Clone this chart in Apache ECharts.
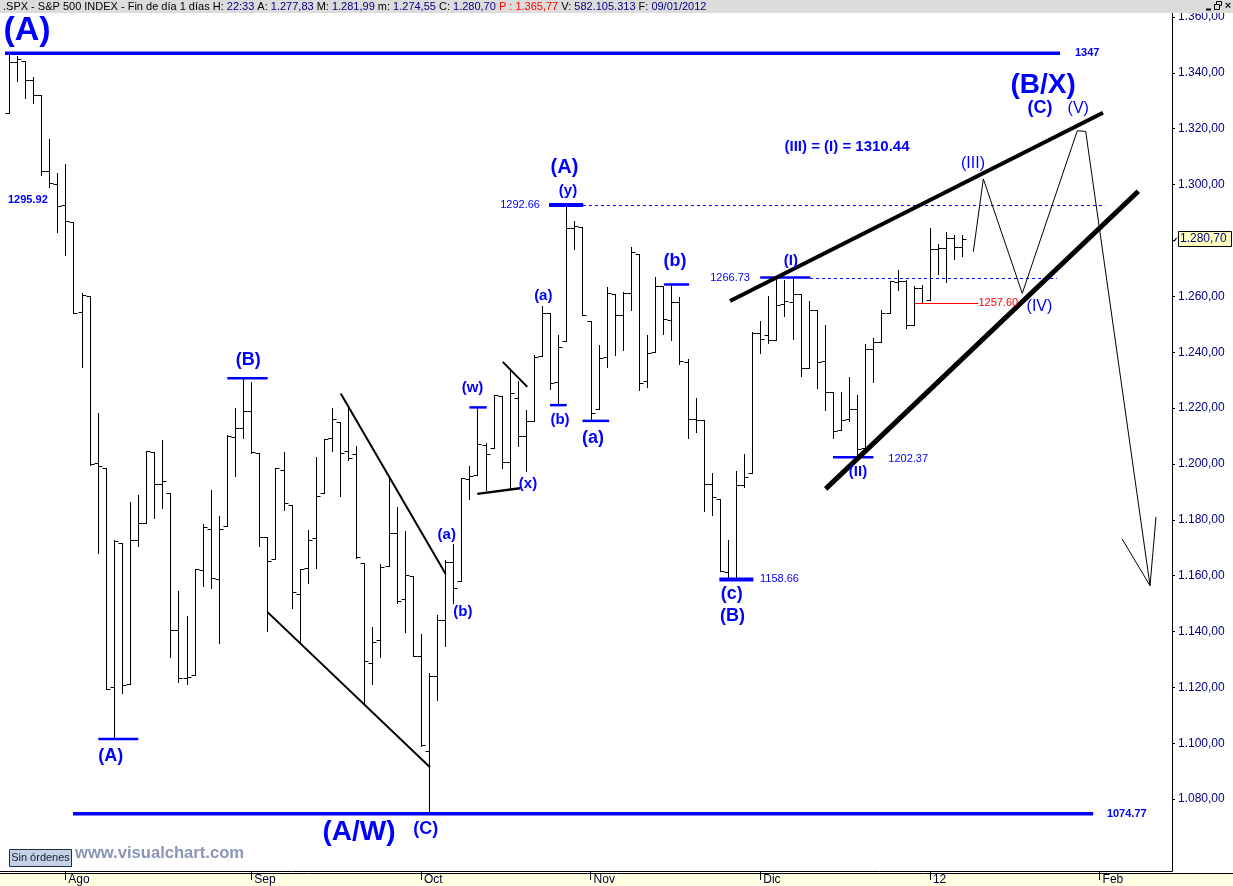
<!DOCTYPE html>
<html><head><meta charset="utf-8">
<script src="https://cdn.jsdelivr.net/npm/echarts@6/dist/echarts.min.js"></script>
<style>html,body{margin:0;padding:0;background:#fff}#c{width:1233px;height:886px}</style>
</head><body><div id="c"></div><script>
const FONT = '"Liberation Sans", Arial, Helvetica, sans-serif';

// ---- daily bars (S&P 500) ----
const dates = ['2011-07-21','2011-07-22','2011-07-25','2011-07-26','2011-07-27','2011-07-28','2011-07-29',
'2011-08-01','2011-08-02','2011-08-03','2011-08-04','2011-08-05','2011-08-08','2011-08-09','2011-08-10','2011-08-11','2011-08-12',
'2011-08-15','2011-08-16','2011-08-17','2011-08-18','2011-08-19','2011-08-22','2011-08-23','2011-08-24','2011-08-25','2011-08-26',
'2011-08-29','2011-08-30','2011-08-31','2011-09-01','2011-09-02','2011-09-06','2011-09-07','2011-09-08','2011-09-09',
'2011-09-12','2011-09-13','2011-09-14','2011-09-15','2011-09-16','2011-09-19','2011-09-20','2011-09-21','2011-09-22','2011-09-23',
'2011-09-26','2011-09-27','2011-09-28','2011-09-29','2011-09-30','2011-10-03','2011-10-04','2011-10-05','2011-10-06','2011-10-07',
'2011-10-10','2011-10-11','2011-10-12','2011-10-13','2011-10-14','2011-10-17','2011-10-18','2011-10-19','2011-10-20','2011-10-21',
'2011-10-24','2011-10-25','2011-10-26','2011-10-27','2011-10-28','2011-10-31','2011-11-01','2011-11-02','2011-11-03','2011-11-04',
'2011-11-07','2011-11-08','2011-11-09','2011-11-10','2011-11-11','2011-11-14','2011-11-15','2011-11-16','2011-11-17','2011-11-18',
'2011-11-21','2011-11-22','2011-11-23','2011-11-25','2011-11-28','2011-11-29','2011-11-30','2011-12-01','2011-12-02',
'2011-12-05','2011-12-06','2011-12-07','2011-12-08','2011-12-09','2011-12-12','2011-12-13','2011-12-14','2011-12-15','2011-12-16',
'2011-12-19','2011-12-20','2011-12-21','2011-12-22','2011-12-23','2011-12-27','2011-12-28','2011-12-29','2011-12-30',
'2012-01-03','2012-01-04','2012-01-05','2012-01-06','2012-01-09'];
const opens = [1325.65,1343.80,1344.32,1337.39,1331.91,1304.84,1300.12,
1292.59,1286.56,1254.25,1260.23,1200.28,1198.48,1120.23,1171.77,1121.30,1172.87,
1178.86,1204.22,1192.89,1189.62,1140.47,1123.55,1124.36,1162.16,1176.69,1158.85,
1177.91,1209.76,1213.00,1219.12,1203.90,1173.97,1165.85,1197.98,1185.37,
1153.50,1162.59,1173.32,1189.44,1209.21,1214.99,1204.50,1203.63,1164.55,1128.82,
1136.91,1163.32,1175.39,1151.74,1159.93,1131.21,1097.42,1124.03,1144.11,1165.03,
1158.15,1194.60,1196.19,1206.96,1205.65,1224.47,1200.75,1223.46,1209.92,1215.39,
1238.72,1254.19,1229.17,1243.97,1284.39,1284.96,1251.00,1219.62,1238.25,1260.82,
1253.21,1261.12,1275.18,1229.59,1240.12,1263.85,1251.70,1257.81,1236.56,1216.19,
1215.62,1192.98,1187.48,1161.41,1158.67,1192.56,1196.72,1246.91,1246.03,
1244.33,1257.19,1258.14,1260.87,1234.48,1255.05,1236.83,1225.73,1212.12,1216.09,
1219.74,1205.72,1241.25,1243.72,1254.00,1265.02,1265.38,1249.75,1262.82,
1258.86,1277.03,1277.30,1280.93,1277.83];
const highs = [1347.00,1346.10,1344.32,1338.51,1331.91,1316.32,1304.16,
1307.38,1286.56,1261.20,1260.23,1218.11,1198.48,1172.88,1171.77,1186.29,1189.04,
1204.49,1204.22,1208.47,1189.62,1154.54,1145.49,1162.35,1178.56,1190.68,1181.23,
1210.28,1220.10,1230.71,1229.29,1203.90,1173.97,1198.62,1204.40,1185.37,
1162.52,1176.41,1202.38,1209.11,1220.06,1214.99,1220.39,1206.30,1164.55,1141.72,
1164.19,1195.86,1184.71,1175.87,1159.93,1138.99,1125.12,1146.07,1165.55,1171.40,
1194.91,1199.24,1220.25,1207.46,1224.61,1224.47,1233.10,1229.64,1219.36,1239.03,
1256.55,1254.19,1246.28,1292.66,1287.08,1284.96,1251.00,1242.48,1263.21,1260.82,
1261.70,1277.55,1275.18,1246.22,1266.98,1263.85,1264.25,1259.61,1237.73,1223.51,
1215.62,1196.81,1187.48,1172.66,1197.35,1203.67,1247.11,1251.09,1260.08,
1266.73,1266.03,1267.06,1260.87,1258.25,1255.05,1249.86,1225.73,1225.60,1231.04,
1224.57,1242.82,1245.09,1255.22,1265.42,1269.37,1265.85,1263.54,1264.12,
1284.62,1278.73,1283.05,1281.84,1281.99];
const lows = [1325.65,1336.95,1331.09,1329.10,1303.49,1299.16,1282.86,
1274.73,1254.03,1234.56,1199.54,1168.09,1119.28,1101.54,1118.01,1121.30,1170.74,
1178.86,1180.53,1184.36,1131.03,1122.05,1121.09,1124.36,1156.30,1155.47,1135.91,
1177.91,1195.77,1209.35,1203.85,1170.56,1140.13,1165.85,1183.34,1148.37,
1136.07,1157.44,1162.73,1189.44,1204.46,1188.36,1201.29,1166.21,1114.22,1121.36,
1131.07,1163.32,1150.40,1139.93,1131.34,1098.92,1074.77,1115.68,1134.95,1150.26,
1158.15,1187.30,1196.19,1190.58,1205.65,1198.55,1191.48,1206.31,1197.34,1215.39,
1238.72,1226.79,1221.06,1243.97,1277.01,1253.16,1215.42,1219.62,1234.81,1238.92,
1240.75,1254.99,1226.64,1227.70,1240.12,1246.68,1244.34,1235.67,1209.43,1211.36,
1183.16,1181.65,1161.79,1158.66,1158.67,1191.80,1196.72,1239.73,1243.35,
1244.33,1253.03,1244.80,1231.47,1234.48,1227.25,1219.43,1209.47,1212.12,1215.20,
1202.37,1205.72,1229.51,1243.72,1254.00,1262.30,1248.64,1249.75,1257.46,
1258.86,1268.10,1265.26,1273.34,1274.55];
const closes = [1343.80,1345.02,1337.43,1331.94,1304.89,1300.67,1292.28,
1286.94,1254.05,1260.34,1200.07,1199.38,1119.46,1172.53,1120.76,1172.64,1178.81,
1204.49,1192.76,1193.89,1140.65,1123.53,1123.82,1162.35,1177.60,1159.27,1176.80,
1210.08,1212.92,1218.89,1204.42,1173.97,1165.24,1198.62,1185.90,1154.23,
1162.27,1172.87,1188.68,1209.11,1216.01,1204.09,1202.09,1166.76,1129.56,1136.43,
1162.95,1175.38,1151.06,1160.40,1131.42,1099.23,1123.95,1144.03,1164.97,1155.46,
1194.89,1195.54,1207.25,1203.66,1224.58,1200.86,1225.38,1209.88,1215.39,1238.25,
1254.19,1229.05,1242.00,1284.59,1285.09,1253.30,1218.28,1237.90,1261.15,1253.23,
1261.12,1275.92,1229.10,1239.69,1263.85,1251.78,1257.81,1236.91,1216.13,1215.65,
1192.98,1188.04,1161.79,1158.67,1192.55,1195.19,1246.96,1244.58,1244.28,
1257.08,1258.47,1261.01,1234.35,1255.19,1236.47,1225.73,1211.82,1215.75,1219.66,
1205.35,1241.30,1243.72,1254.00,1265.33,1265.43,1249.64,1263.02,1257.60,
1277.06,1277.30,1281.06,1277.81,1280.70];

// ---- axes ----
const priceTicks = [1080,1100,1120,1140,1160,1180,1200,1220,1240,1260,1280,1300,1320,1340,1360];
const monthTickDates = ['2011-08-01','2011-09-01','2011-10-03','2011-11-01','2011-12-01','2012-01-03','2012-02-01'];
const monthTickLabels = ['Ago','Sep','Oct','Nov','Dic','12','Feb'];

// ---- annotations (bar index, price) ----
const levelLines = [[1347, -0.47, 130.1, 'level'], [1074.77, 7.95, 134.2, 'level']];
const waveMarkers = [
  [1101.54, 11.08, 16.03, 'mark'], [1230.71, 27.04, 32.04, 'mark'], [1220.25, 57.0, 59.15, 'mark'],
  [1221.06, 66.98, 69.05, 'mark'], [1215.42, 71.0, 74.3, 'mark'], [1292.66, 66.86, 71.1, 'markThick'],
  [1264.25, 81.1, 84.2, 'mark'], [1266.73, 93.0, 99.2, 'mark'], [1158.66, 87.94, 92.15, 'markThick'],
  [1202.37, 102.0, 107.0, 'mark']];
const refLines = [[1292.66, 71.06, 135.7, 'dash'], [1266.73, 99.16, 129.7, 'dash'], [1257.60, 112.15, 120.0, 'red']];
const trendLines = [
  [[31.99, 1147.04], [52.13, 1091.43], 'thin2'],
  [[41.08, 1225.25], [54.07, 1160.61], 'thin2'],
  [[57.98, 1189.29], [63.27, 1191.32], 'thin25'],
  [[61.13, 1236.54], [64.17, 1227.61], 'thin2'],
  [[89.26, 1258.32], [135.42, 1325.71], 'thick4'],
  [[101.1, 1191.07], [139.79, 1297.61], 'thick5']];
const projectionPath = [[119.37, 1275.96], [120.61, 1302.04], [125.43, 1261.07], [132.24, 1319.29], [133.28, 1319.04], [141.24, 1156.43]];
const arrowHead = [[137.77, 1173.21], [141.24, 1156.43], [141.98, 1181.07]];
const waveLabels = [
  ['(A)', 2.25, 1355, 'huge', 'center'], ['(A/W)', 43.34, 1068.2, 'big', 'center'], ['(B/X)', 128.0, 1335.4, 'big', 'center'],
  ['(C)', 127.62, 1327.25, 'b18', 'center'], ['(V)', 132.36, 1327.1, 'r16', 'center'],
  ['(III) = (I) = 1310.44', 103.74, 1313.57, 'b15', 'center'], ['(III)', 119.33, 1307.5, 'r16', 'center'],
  ['(IV)', 127.56, 1256.4, 'r16', 'center'], ['(I)', 96.8, 1272.6, 'b15', 'center'], ['(II)', 105.1, 1197.3, 'b15', 'center'],
  ['(c)', 89.47, 1153.6, 'b18', 'center'], ['(B)', 89.56, 1145.5, 'b18', 'center'], ['(b)', 82.45, 1272.5, 'b18', 'center'],
  ['(A)', 68.77, 1306.25, 'b20', 'center'], ['(y)', 69.21, 1297.9, 'b15', 'center'], ['(a)', 66.15, 1260.25, 'b15', 'center'],
  ['(b)', 68.22, 1215.96, 'b15', 'center'], ['(a)', 72.3, 1209.3, 'b18', 'center'], ['(w)', 57.39, 1227.1, 'b15', 'center'],
  ['(x)', 64.26, 1192.7, 'b15', 'center'], ['(a)', 54.2, 1174.5, 'b15', 'center'], ['(b)', 56.2, 1146.9, 'b15', 'center'],
  ['(A)', 12.62, 1095.4, 'b18', 'center'], ['(B)', 29.63, 1237.3, 'b18', 'center'], ['(C)', 51.61, 1069.2, 'b18', 'center']];
const priceNotes = [
  ['1295.92', -0.1, 1294.64, 'b11', 'left'], ['1292.66', 65.74, 1292.66, 'n11', 'right'],
  ['1266.73', 91.73, 1266.73, 'n11', 'right'], ['1158.66', 92.97, 1158.66, 'n11', 'left'],
  ['1202.37', 108.85, 1201.8, 'n11', 'left'], ['1257.60', 120.0, 1257.60, 'red11', 'left'],
  ['1347', 131.95, 1347, 'b11', 'left'], ['1074.77', 135.9, 1074.77, 'b11', 'left']];

// ---- styles ----
const BLUE = '#0000FF';
const lineStyles = {
  level: {stroke: BLUE, lineWidth: 3.5}, mark: {stroke: BLUE, lineWidth: 2.5}, markThick: {stroke: BLUE, lineWidth: 4},
  dash: {stroke: BLUE, lineWidth: 1, lineDash: [3, 3]}, red: {stroke: '#FF0000', lineWidth: 1},
  thin2: {stroke: '#000', lineWidth: 2}, thin25: {stroke: '#000', lineWidth: 2.5},
  thick4: {stroke: '#000', lineWidth: 4}, thick5: {stroke: '#000', lineWidth: 5}, path: {stroke: '#000', lineWidth: 1}
};
const textStyles = {
  huge: ['bold 34px', BLUE], big: ['bold 28px', BLUE], b20: ['bold 20px', BLUE], b18: ['bold 18px', BLUE],
  b15: ['bold 15px', BLUE], r16: ['16px', BLUE], b11: ['bold 11px', BLUE], n11: ['11px', BLUE], red11: ['11px', '#FF0000']
};

function fmtEs(v) {
  const s = v.toFixed(2).split('.');
  return s[0].replace(/\B(?=(\d{3})+(?!\d))/g, '.') + ',' + s[1];
}
function dateIndex(d) {
  const k = dates.indexOf(d);
  if (k >= 0) return k;
  let cur = new Date(dates[dates.length - 1] + 'T00:00:00Z');
  const target = new Date(d + 'T00:00:00Z');
  let idx = dates.length - 1;
  while (cur < target) {
    cur = new Date(cur.getTime() + 86400000);
    const wd = cur.getUTCDay();
    if (wd !== 0 && wd !== 6) idx++;
  }
  return idx;
}
const monthIdx = monthTickDates.map(dateIndex);

const segments = [];
levelLines.concat(waveMarkers, refLines).forEach(h => segments.push({pts: [[h[1], h[0]], [h[2], h[0]]], style: h[3], horiz: true}));
trendLines.forEach(t => segments.push({pts: [t[0], t[1]], style: t[2]}));
segments.push({pts: projectionPath, style: 'path'});
segments.push({pts: arrowHead, style: 'path'});

const texts = waveLabels.concat(priceNotes);

const GRID = {left: 0, right: 61, top: 13, bottom: 13};
const chart = echarts.init(document.getElementById('c'), null, {renderer: 'canvas'});

chart.setOption({
  animation: false,
  backgroundColor: '#FFFFFF',
  grid: GRID,
  xAxis: {
    type: 'value', min: -1.089, max: 143.96,
    axisLine: {onZero: false, lineStyle: {color: '#000', width: 1}},
    splitLine: {show: false},
    axisTick: {customValues: monthIdx, length: 9, lineStyle: {color: '#000'}},
    axisLabel: {customValues: monthIdx, align: 'left', margin: 3, padding: [0, 0, 0, 3],
      color: '#000033', fontSize: 12, fontFamily: FONT,
      formatter: v => monthTickLabels[monthIdx.indexOf(Math.round(v))] || ''}
  },
  yAxis: {
    type: 'value', position: 'right', min: 1054.29, max: 1361.43, scale: true,
    axisLine: {show: true, onZero: false, lineStyle: {color: '#000', width: 1}},
    splitLine: {show: false},
    axisTick: {show: true, customValues: priceTicks, length: 3, lineStyle: {color: '#000'}},
    axisLabel: {customValues: priceTicks, margin: 6, color: '#000080', fontSize: 12, fontFamily: FONT,
      formatter: v => fmtEs(v)}
  },
  series: [
    {
      type: 'custom', name: 'SPX',
      data: dates.map((d, k) => [k, opens[k], highs[k], lows[k], closes[k]]),
      encode: {x: 0, y: [1, 2, 3, 4]},
      renderItem: function (params, api) {
        const i = api.value(0);
        const pO = api.coord([i, api.value(1)]);
        const pH = api.coord([i, api.value(2)]);
        const pL = api.coord([i, api.value(3)]);
        const pC = api.coord([i, api.value(4)]);
        const x = Math.round(pH[0]) + 0.5;
        const yo = Math.round(pO[1]) + 0.5, yc = Math.round(pC[1]) + 0.5;
        const st = {stroke: '#000', lineWidth: 1};
        return {type: 'group', children: [
          {type: 'line', shape: {x1: x, y1: Math.round(pH[1]), x2: x, y2: Math.round(pL[1]) + 1}, style: st},
          {type: 'line', shape: {x1: x - 4, y1: yo, x2: x, y2: yo}, style: st},
          {type: 'line', shape: {x1: x, y1: yc, x2: x + 4, y2: yc}, style: st}
        ]};
      }
    },
    {
      type: 'custom', name: 'lines',
      data: segments.map((s, k) => [s.pts[0][0], s.pts[0][1], k]),
      encode: {x: 0, y: 1},
      renderItem: function (params, api) {
        const s = segments[params.dataIndex];
        const st = lineStyles[s.style];
        let pts = s.pts.map(p => api.coord(p));
        if (s.horiz && st.lineWidth === 1) pts = pts.map(p => [p[0], Math.round(p[1]) + 0.5]);
        return {type: 'polyline', shape: {points: pts}, style: Object.assign({fill: 'none'}, st)};
      }
    },
    {
      type: 'custom', name: 'texts',
      data: texts.map((t, k) => [t[1], t[2], k]),
      encode: {x: 0, y: 1},
      renderItem: function (params, api) {
        const t = texts[params.dataIndex];
        const p = api.coord([t[1], t[2]]);
        const ts = textStyles[t[3]];
        return {type: 'text', x: p[0], y: p[1], style: {text: t[0], font: ts[0] + ' ' + FONT, fill: ts[1], align: t[4], verticalAlign: 'middle'}};
      }
    }
  ]
});

// ---- frame, header and current-price box ----
const W = chart.getWidth(), H = chart.getHeight();
const last = closes.length - 1;
const axisX = W - GRID.right;
const py = chart.convertToPixel({yAxisIndex: 0}, closes[last]);
const headerText = '{k|.SPX - S&P 500 INDEX - Fin de día 1 días H: }{v|22:33}{k| A: }{v|' + fmtEs(opens[last]) +
  '}{k| M: }{v|' + fmtEs(highs[last]) + '}{k| m: }{v|' + fmtEs(lows[last]) + '}{k| C: }{v|' + fmtEs(closes[last]) +
  '}{r| P : 1.365,77}{k| V: }{v|582.105.313}{k| F: }{v|09/01/2012}';

chart.setOption({
  graphic: [
    {type: 'rect', z: -10, shape: {x: 0, y: H - GRID.bottom, width: W, height: GRID.bottom}, style: {fill: '#FFFFE1'}},
    {type: 'line', z: 50, shape: {x1: 0, y1: H - GRID.bottom + 0.5, x2: W, y2: H - GRID.bottom + 0.5}, style: {stroke: '#000', lineWidth: 1}},
    {type: 'rect', z: 100, shape: {x: 0, y: 0, width: W, height: GRID.top}, style: {fill: '#DCDCDC'}},
    {type: 'text', z: 101, x: 3, y: 7, style: {text: headerText, font: '11px ' + FONT, verticalAlign: 'middle',
      rich: {k: {fill: '#000000', font: '11px ' + FONT}, v: {fill: '#000080', font: '11px ' + FONT}, r: {fill: '#FF0000', font: '11px ' + FONT}}}},
    {type: 'line', z: 101, shape: {x1: 1206, y1: 9.5, x2: 1211, y2: 9.5}, style: {stroke: '#000', lineWidth: 2}},
    {type: 'rect', z: 101, shape: {x: 1216.5, y: 1.5, width: 5, height: 4}, style: {fill: 'none', stroke: '#000', lineWidth: 1}},
    {type: 'rect', z: 102, shape: {x: 1214.5, y: 4.5, width: 5, height: 5}, style: {fill: '#DCDCDC', stroke: '#000', lineWidth: 1}},
    {type: 'text', z: 101, x: 1228, y: 6, style: {text: '×', font: 'bold 11px ' + FONT, fill: '#000', align: 'center', verticalAlign: 'middle'}},
    {type: 'rect', z: 60, shape: {x: axisX + 6.5, y: Math.round(py) - 7.5, width: 53, height: 15}, style: {fill: '#FFFFC0', stroke: '#000', lineWidth: 1}},
    {type: 'text', z: 61, x: axisX + 8, y: Math.round(py), style: {text: fmtEs(closes[last]), font: '12px ' + FONT, fill: '#000080', verticalAlign: 'middle'}},
    {type: 'polyline', z: 61, shape: {points: [[axisX + 2, py + 3], [axisX + 4, py + 1], [axisX + 3, py + 1], [axisX + 5, py - 1]]}, style: {fill: 'none', stroke: '#000', lineWidth: 1}},
    {type: 'rect', z: 60, shape: {x: 9.5, y: 849.5, width: 62, height: 17}, style: {fill: '#C5D2E3', stroke: '#1F2F3F', lineWidth: 1}},
    {type: 'text', z: 61, x: 40.5, y: 858, style: {text: 'Sin órdenes', font: '11px ' + FONT, fill: '#102030', align: 'center', verticalAlign: 'middle'}},
    {type: 'text', z: 61, x: 75, y: 853.5, style: {text: 'www.visualchart.com', font: 'bold 16.6px ' + FONT, fill: '#8A95B8', verticalAlign: 'middle'}}
  ]
});
</script></body></html>
